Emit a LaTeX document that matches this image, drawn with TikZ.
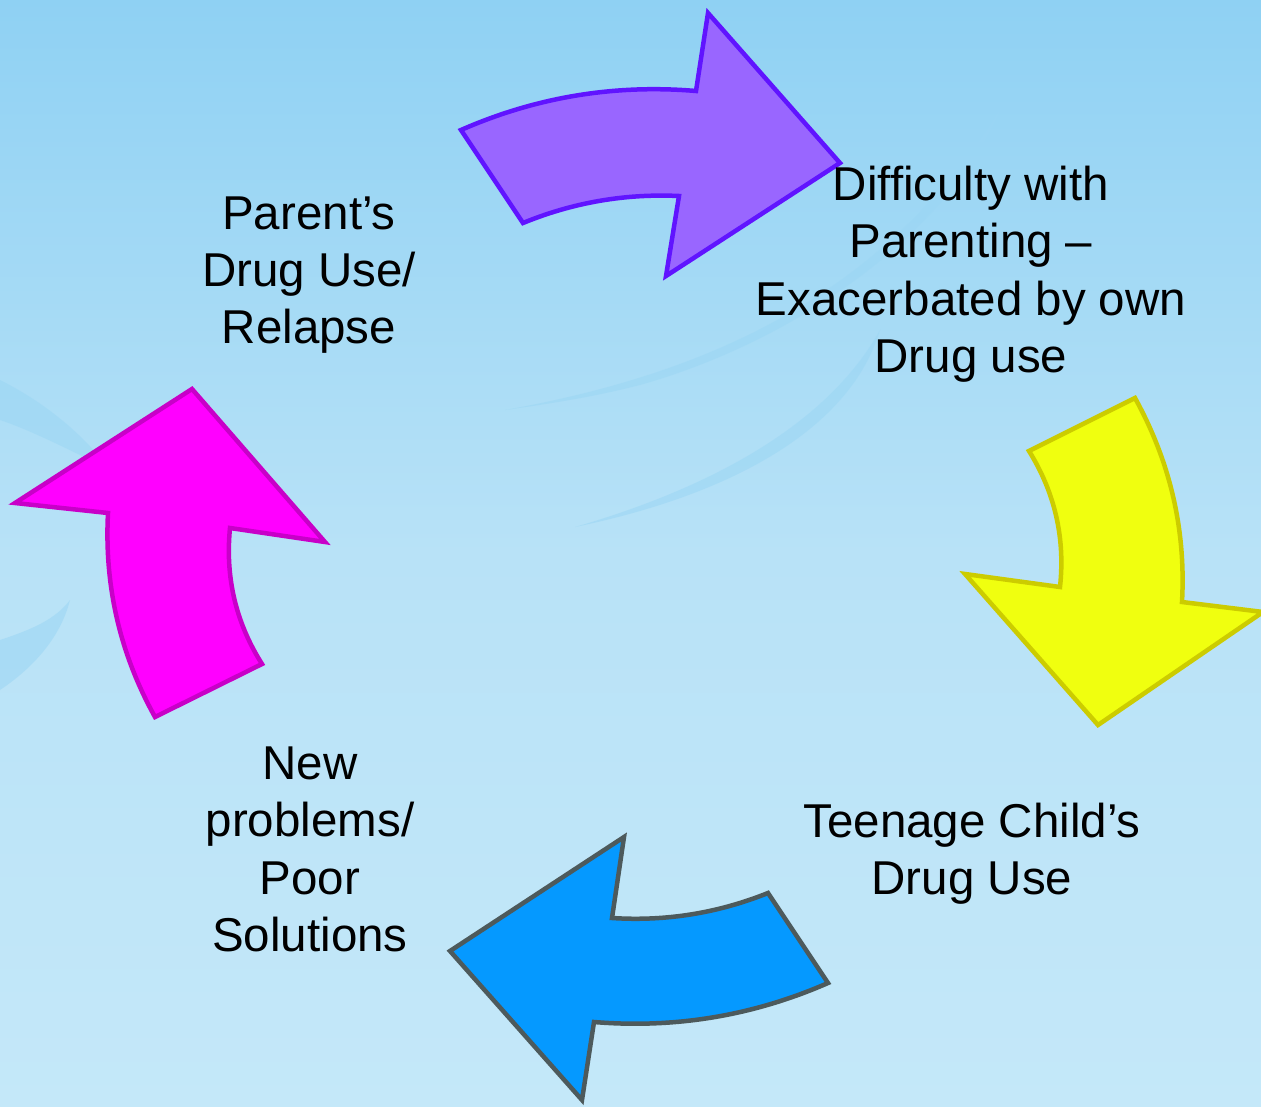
\documentclass[tikz,border=0pt]{standalone}
\usepackage{fontspec}
\setmainfont{Liberation Sans}
\begin{document}
\begin{tikzpicture}[x=1pt,y=-1pt,
  lbl/.style={align=center,anchor=base,inner sep=0pt,font=\fontsize{47.5}{57.5}\selectfont},
  arr/.style={line width=4.5pt,line join=miter},
  swoosh/.style={fill=wm,draw=none,opacity=0.55}]
\definecolor{bgtop}{HTML}{8FD1F3}
\definecolor{bgmid}{HTML}{B8E2F7}
\definecolor{bgbot}{HTML}{C4E8F9}
\definecolor{wm}{HTML}{9BD6F4}
\definecolor{pfill}{HTML}{9966FF}\definecolor{pline}{HTML}{6014FF}
\definecolor{yfill}{HTML}{F0FF0F}\definecolor{yline}{HTML}{CCCC00}
\definecolor{bfill}{HTML}{0599FF}\definecolor{bline}{HTML}{4D5A5C}
\definecolor{mfill}{HTML}{FF00FF}\definecolor{mline}{HTML}{C800C8}
\useasboundingbox (0,0) rectangle (1261,1107);
\shade[top color=bgtop,bottom color=bgbot,middle color=bgmid] (0,0) rectangle (1261,1107);
% faint watermark swooshes
\fill[swoosh] (505,410) .. controls (700,375) and (880,300) .. (1000,110)
  .. controls (950,230) and (800,340) .. (640,385) .. controls (590,398) and (540,405) .. cycle;
\fill[swoosh] (575,527) .. controls (720,485) and (830,420) .. (880,330)
  .. controls (850,430) and (730,495) .. cycle;
\fill[swoosh] (0,380) .. controls (40,400) and (80,430) .. (110,470) .. controls (70,450) and (30,430) .. (0,420) -- cycle;
\fill[swoosh] (0,640) .. controls (30,630) and (55,620) .. (70,600) .. controls (60,640) and (30,670) .. (0,690) -- cycle;
% purple arrow
\draw[arr,draw=pline,fill=pfill] (461,130) .. controls (536,97.1) and (614.4,84.1) .. (696,91)
  -- (708,13) -- (840,163) -- (666,276) -- (679,196)
  .. controls (625,193.5) and (573,202.5) .. (523,223) -- cycle;
% yellow arrow
\draw[arr,draw=yline,fill=yfill] (1135,398) .. controls (1170,461.5) and (1186,529.5) .. (1182,602)
  -- (1263,612) -- (1098,725) -- (965,574) -- (1060,587)
  .. controls (1065.3,538.1) and (1054.9,492.7) .. (1029,451) -- cycle;
% blue arrow
\draw[arr,draw=bline,fill=bfill] (828,983) .. controls (753.3,1015.7) and (675.3,1028.7) .. (594,1022)
  -- (582,1100) -- (450,951) -- (624,837) -- (612,918)
  .. controls (665.9,921.5) and (717.9,913.1) .. (768,893) -- cycle;
% magenta arrow
\draw[arr,draw=mline,fill=mfill] (262,664) .. controls (235.7,622.4) and (225.1,577) .. (230,528)
  -- (325,542) -- (192,389) -- (15,503) -- (108,513)
  .. controls (104.2,585.5) and (119.8,653.5) .. (155,717) -- cycle;
% labels (anchor = baseline of last line)
\node[lbl] (parent) at (309,344) {Parent’s\\Drug Use/\\Relapse};
\node[lbl] (diff) at (971,372.5) {Difficulty with\\Parenting –\\Exacerbated by own\\Drug use};
\node[lbl] (teen) at (972,894.5) {Teenage Child’s\\Drug Use};
\node[lbl] (new) at (310,951.5) {New\\problems/\\Poor\\Solutions};
\end{tikzpicture}
\end{document}
